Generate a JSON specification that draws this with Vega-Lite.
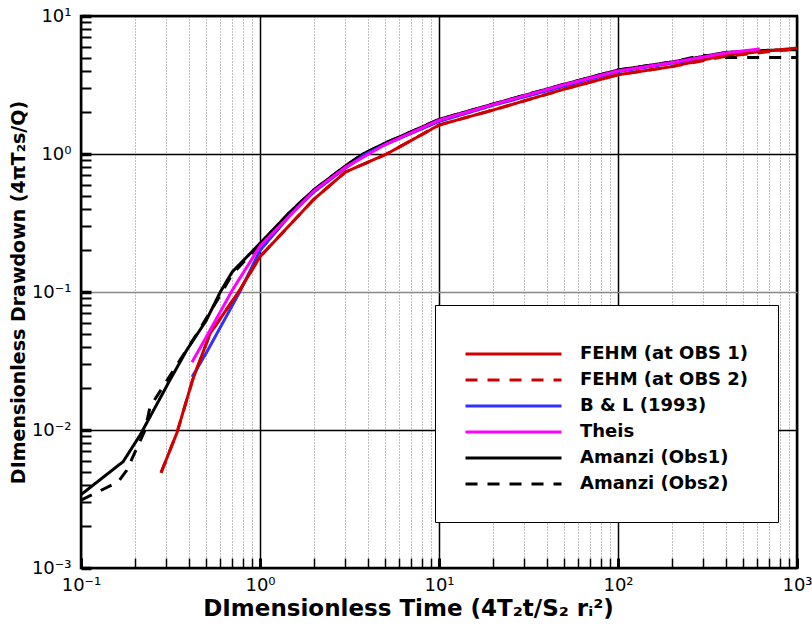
{
  "$schema": "https://vega.github.io/schema/vega-lite/v6.json",
  "autosize": {"type": "none"},
  "padding": {"left": 81, "top": 16, "right": 15, "bottom": 67},
  "width": 716,
  "height": 552,
  "background": "white",
  "config": {
    "font": "DejaVu Sans",
    "view": {"stroke": "black", "strokeWidth": 2.5},
    "legend": {
      "orient": "none",
      "legendX": 354,
      "legendY": 289,
      "padding": 29,
      "fillColor": "white",
      "strokeColor": "black",
      "symbolType": "stroke",
      "symbolSize": 9216,
      "symbolStrokeWidth": 3,
      "clipHeight": 18,
      "rowPadding": 8,
      "labelFont": "DejaVu Sans",
      "labelFontSize": 18,
      "labelFontWeight": "bold",
      "labelColor": "black",
      "labelOffset": 17,
      "labelLimit": 400,
      "titleFontSize": 7,
      "titlePadding": 4
    }
  },
  "data": {
    "values": [
      {"series": "Amanzi (Obs1)", "t": 0.1, "s": 0.0034},
      {"series": "Amanzi (Obs1)", "t": 0.172, "s": 0.0059},
      {"series": "Amanzi (Obs1)", "t": 0.214, "s": 0.0092},
      {"series": "Amanzi (Obs1)", "t": 0.314, "s": 0.023},
      {"series": "Amanzi (Obs1)", "t": 0.39, "s": 0.038},
      {"series": "Amanzi (Obs1)", "t": 0.5, "s": 0.062},
      {"series": "Amanzi (Obs1)", "t": 0.6, "s": 0.1},
      {"series": "Amanzi (Obs1)", "t": 0.7, "s": 0.14},
      {"series": "Amanzi (Obs1)", "t": 1.0, "s": 0.225},
      {"series": "Amanzi (Obs1)", "t": 1.47, "s": 0.38},
      {"series": "Amanzi (Obs1)", "t": 2.0, "s": 0.55},
      {"series": "Amanzi (Obs1)", "t": 3.0, "s": 0.82},
      {"series": "Amanzi (Obs1)", "t": 3.76, "s": 1.0},
      {"series": "Amanzi (Obs1)", "t": 5.0, "s": 1.2},
      {"series": "Amanzi (Obs1)", "t": 7.0, "s": 1.45},
      {"series": "Amanzi (Obs1)", "t": 10.0, "s": 1.78},
      {"series": "Amanzi (Obs1)", "t": 20.0, "s": 2.3},
      {"series": "Amanzi (Obs1)", "t": 50.0, "s": 3.2},
      {"series": "Amanzi (Obs1)", "t": 100.0, "s": 4.06},
      {"series": "Amanzi (Obs1)", "t": 200.0, "s": 4.64},
      {"series": "Amanzi (Obs1)", "t": 400.0, "s": 5.45},
      {"series": "Amanzi (Obs1)", "t": 700.0, "s": 5.65},
      {"series": "Amanzi (Obs1)", "t": 1000.0, "s": 5.7},

      {"series": "Amanzi (Obs2)", "t": 0.1, "s": 0.0031},
      {"series": "Amanzi (Obs2)", "t": 0.161, "s": 0.0042},
      {"series": "Amanzi (Obs2)", "t": 0.18, "s": 0.0051},
      {"series": "Amanzi (Obs2)", "t": 0.228, "s": 0.01},
      {"series": "Amanzi (Obs2)", "t": 0.243, "s": 0.0147},
      {"series": "Amanzi (Obs2)", "t": 0.445, "s": 0.05},
      {"series": "Amanzi (Obs2)", "t": 0.6, "s": 0.095},
      {"series": "Amanzi (Obs2)", "t": 0.7, "s": 0.135},
      {"series": "Amanzi (Obs2)", "t": 1.0, "s": 0.22},
      {"series": "Amanzi (Obs2)", "t": 1.47, "s": 0.38},
      {"series": "Amanzi (Obs2)", "t": 2.0, "s": 0.55},
      {"series": "Amanzi (Obs2)", "t": 3.0, "s": 0.82},
      {"series": "Amanzi (Obs2)", "t": 3.76, "s": 1.0},
      {"series": "Amanzi (Obs2)", "t": 5.0, "s": 1.2},
      {"series": "Amanzi (Obs2)", "t": 7.0, "s": 1.45},
      {"series": "Amanzi (Obs2)", "t": 10.0, "s": 1.78},
      {"series": "Amanzi (Obs2)", "t": 20.0, "s": 2.3},
      {"series": "Amanzi (Obs2)", "t": 50.0, "s": 3.2},
      {"series": "Amanzi (Obs2)", "t": 100.0, "s": 4.06},
      {"series": "Amanzi (Obs2)", "t": 200.0, "s": 4.64},
      {"series": "Amanzi (Obs2)", "t": 300.0, "s": 5.2},
      {"series": "Amanzi (Obs2)", "t": 400.0, "s": 5.0},
      {"series": "Amanzi (Obs2)", "t": 1000.0, "s": 5.0},

      {"series": "B & L (1993)", "t": 0.417, "s": 0.0242},
      {"series": "B & L (1993)", "t": 0.5, "s": 0.036},
      {"series": "B & L (1993)", "t": 0.77, "s": 0.1},
      {"series": "B & L (1993)", "t": 1.0, "s": 0.2},
      {"series": "B & L (1993)", "t": 1.5, "s": 0.37},
      {"series": "B & L (1993)", "t": 2.0, "s": 0.53},
      {"series": "B & L (1993)", "t": 3.0, "s": 0.79},
      {"series": "B & L (1993)", "t": 3.9, "s": 1.0},
      {"series": "B & L (1993)", "t": 5.0, "s": 1.17},
      {"series": "B & L (1993)", "t": 10.0, "s": 1.72},
      {"series": "B & L (1993)", "t": 20.0, "s": 2.25},
      {"series": "B & L (1993)", "t": 50.0, "s": 3.1},
      {"series": "B & L (1993)", "t": 100.0, "s": 3.95},
      {"series": "B & L (1993)", "t": 200.0, "s": 4.55},
      {"series": "B & L (1993)", "t": 500.0, "s": 5.45},

      {"series": "FEHM (at OBS 1)", "t": 0.28, "s": 0.0049},
      {"series": "FEHM (at OBS 1)", "t": 0.344, "s": 0.0096},
      {"series": "FEHM (at OBS 1)", "t": 0.42, "s": 0.023},
      {"series": "FEHM (at OBS 1)", "t": 0.526, "s": 0.05},
      {"series": "FEHM (at OBS 1)", "t": 0.77, "s": 0.103},
      {"series": "FEHM (at OBS 1)", "t": 1.0, "s": 0.18},
      {"series": "FEHM (at OBS 1)", "t": 2.0, "s": 0.47},
      {"series": "FEHM (at OBS 1)", "t": 3.0, "s": 0.74},
      {"series": "FEHM (at OBS 1)", "t": 5.1, "s": 1.0},
      {"series": "FEHM (at OBS 1)", "t": 10.0, "s": 1.62},
      {"series": "FEHM (at OBS 1)", "t": 20.0, "s": 2.08},
      {"series": "FEHM (at OBS 1)", "t": 50.0, "s": 2.95},
      {"series": "FEHM (at OBS 1)", "t": 100.0, "s": 3.75},
      {"series": "FEHM (at OBS 1)", "t": 200.0, "s": 4.3},
      {"series": "FEHM (at OBS 1)", "t": 400.0, "s": 5.2},
      {"series": "FEHM (at OBS 1)", "t": 1000.0, "s": 5.86},

      {"series": "FEHM (at OBS 2)", "t": 0.28, "s": 0.0049},
      {"series": "FEHM (at OBS 2)", "t": 0.344, "s": 0.0096},
      {"series": "FEHM (at OBS 2)", "t": 0.42, "s": 0.023},
      {"series": "FEHM (at OBS 2)", "t": 0.526, "s": 0.05},
      {"series": "FEHM (at OBS 2)", "t": 0.77, "s": 0.103},
      {"series": "FEHM (at OBS 2)", "t": 1.0, "s": 0.18},
      {"series": "FEHM (at OBS 2)", "t": 2.0, "s": 0.47},
      {"series": "FEHM (at OBS 2)", "t": 3.0, "s": 0.74},
      {"series": "FEHM (at OBS 2)", "t": 5.1, "s": 1.0},
      {"series": "FEHM (at OBS 2)", "t": 10.0, "s": 1.62},
      {"series": "FEHM (at OBS 2)", "t": 20.0, "s": 2.08},
      {"series": "FEHM (at OBS 2)", "t": 50.0, "s": 2.95},
      {"series": "FEHM (at OBS 2)", "t": 100.0, "s": 3.75},
      {"series": "FEHM (at OBS 2)", "t": 200.0, "s": 4.3},
      {"series": "FEHM (at OBS 2)", "t": 400.0, "s": 5.1},
      {"series": "FEHM (at OBS 2)", "t": 1000.0, "s": 5.8},

      {"series": "Theis", "t": 0.417, "s": 0.031},
      {"series": "Theis", "t": 0.5, "s": 0.047},
      {"series": "Theis", "t": 0.7, "s": 0.103},
      {"series": "Theis", "t": 1.0, "s": 0.215},
      {"series": "Theis", "t": 2.0, "s": 0.54},
      {"series": "Theis", "t": 3.0, "s": 0.8},
      {"series": "Theis", "t": 5.0, "s": 1.17},
      {"series": "Theis", "t": 10.0, "s": 1.76},
      {"series": "Theis", "t": 20.0, "s": 2.28},
      {"series": "Theis", "t": 50.0, "s": 3.18},
      {"series": "Theis", "t": 100.0, "s": 4.0},
      {"series": "Theis", "t": 200.0, "s": 4.6},
      {"series": "Theis", "t": 400.0, "s": 5.4},
      {"series": "Theis", "t": 620.0, "s": 5.77}
    ]
  },
  "mark": {"type": "line", "strokeWidth": 3, "clip": true},
  "encoding": {
    "x": {
      "field": "t",
      "type": "quantitative",
      "scale": {"type": "log", "domain": [0.1, 1000], "nice": false},
      "axis": {
        "offset": -10,
        "domain": false,
        "title": "DImensionless Time (4T₂t/S₂ rᵢ²)",
        "titleFont": "DejaVu Sans",
        "titleFontSize": 23,
        "titleFontWeight": "bold",
        "titleColor": "black",
        "titlePadding": 3,
        "titleX": 327,
        "values": [0.1,0.2,0.3,0.4,0.5,0.6,0.7,0.8,0.9,1,2,3,4,5,6,7,8,9,10,20,30,40,50,60,70,80,90,100,200,300,400,500,600,700,800,900,1000],
        "labelExpr": "datum.value==0.1?'10⁻¹':datum.value==1?'10⁰':datum.value==10?'10¹':datum.value==100?'10²':datum.value==1000?'10³':''",
        "labelOverlap": false,
        "labelFlush": false,
        "labelBound": false,
        "labelFont": "DejaVu Sans",
        "labelFontSize": 18,
        "labelColor": "black",
        "labelPadding": 8,
        "grid": true,
        "gridColor": {"condition": {"test": "abs(log(datum.value)/LN10 - round(log(datum.value)/LN10)) < 0.000001", "value": "black"}, "value": "#808080"},
        "gridDash": {"condition": {"test": "abs(log(datum.value)/LN10 - round(log(datum.value)/LN10)) < 0.000001", "value": []}, "value": [1, 2]},
        "gridWidth": {"condition": {"test": "abs(log(datum.value)/LN10 - round(log(datum.value)/LN10)) < 0.000001", "value": 1.5}, "value": 1},
        "gridOpacity": 1,
        "ticks": true,
        "tickColor": "black",
        "tickOpacity": 1,
        "tickSize": 10,
        "tickWidth": {"condition": {"test": "abs(log(datum.value)/LN10 - round(log(datum.value)/LN10)) < 0.000001", "value": 3}, "value": 1.5}
      }
    },
    "y": {
      "field": "s",
      "type": "quantitative",
      "scale": {"type": "log", "domain": [0.001, 10], "nice": false},
      "axis": {
        "offset": -10,
        "domain": false,
        "title": "DImensionless Drawdown (4πT₂s/Q)",
        "titleFont": "DejaVu Sans",
        "titleFontSize": 19,
        "titleFontWeight": "bold",
        "titleColor": "black",
        "titlePadding": 3,
        "values": [0.001,0.002,0.003,0.004,0.005,0.006,0.007,0.008,0.009,0.01,0.02,0.03,0.04,0.05,0.06,0.07,0.08,0.09,0.1,0.2,0.3,0.4,0.5,0.6,0.7,0.8,0.9,1,2,3,4,5,6,7,8,9,10],
        "labelExpr": "datum.value==0.001?'10⁻³':datum.value==0.01?'10⁻²':datum.value==0.1?'10⁻¹':datum.value==1?'10⁰':datum.value==10?'10¹':''",
        "labelOverlap": false,
        "labelFlush": false,
        "labelBound": false,
        "labelFont": "DejaVu Sans",
        "labelFontSize": 18,
        "labelColor": "black",
        "labelPadding": 10,
        "grid": true,
        "gridColor": {"condition": {"test": "abs(datum.value - 0.1) < 0.000001", "value": "#888888"}, "value": "black"},
        "gridWidth": 1.5,
        "gridOpacity": {"condition": {"test": "abs(log(datum.value)/LN10 - round(log(datum.value)/LN10)) < 0.000001", "value": 1}, "value": 0},
        "ticks": true,
        "tickColor": "black",
        "tickOpacity": 1,
        "tickSize": 10,
        "tickWidth": {"condition": {"test": "abs(log(datum.value)/LN10 - round(log(datum.value)/LN10)) < 0.000001", "value": 3.5}, "value": 2}
      }
    },
    "color": {
      "field": "series",
      "type": "nominal",
      "title": " ",
      "scale": {
        "domain": ["FEHM (at OBS 1)", "FEHM (at OBS 2)", "B & L (1993)", "Theis", "Amanzi (Obs1)", "Amanzi (Obs2)"],
        "range": ["#d00000", "#d00000", "#3030ff", "#ff00ff", "#000000", "#000000"]
      }
    },
    "strokeDash": {
      "field": "series",
      "type": "nominal",
      "title": " ",
      "scale": {
        "domain": ["FEHM (at OBS 1)", "FEHM (at OBS 2)", "B & L (1993)", "Theis", "Amanzi (Obs1)", "Amanzi (Obs2)"],
        "range": [[1, 0], [12, 10], [1, 0], [1, 0], [1, 0], [12, 10]]
      }
    }
  }
}
